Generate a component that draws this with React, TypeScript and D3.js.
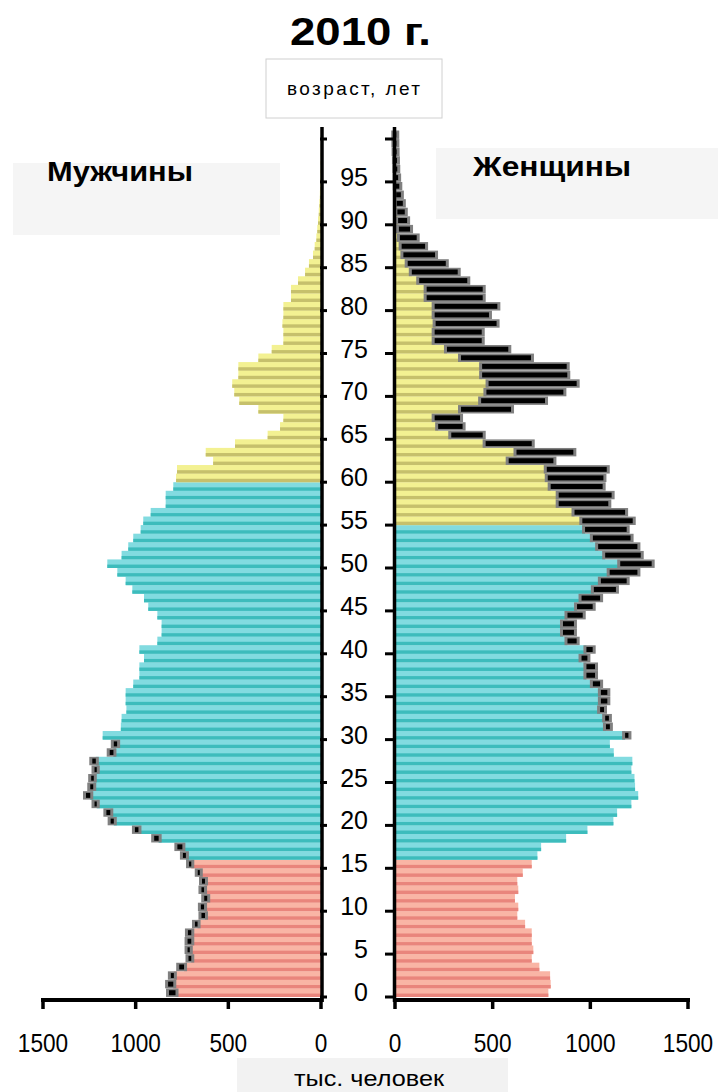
import React from 'react';
import * as d3 from 'd3';

// Population of Russia, 2010, thousand persons, by single year of age 0..100
const male = [
  820, 825, 810, 765, 715, 720, 720, 718, 680, 645,
  648, 630, 645, 642, 665, 712, 745, 775, 900, 1004,
  1135, 1158, 1222, 1268, 1245, 1240, 1222, 1234, 1140, 1118,
  1178, 1080, 1076, 1050, 1054, 1054, 1013, 980, 980, 955,
  980, 883, 860, 860, 883, 932, 955, 1018, 1054, 1099,
  1153, 1076, 1040, 1013, 973, 959, 919, 838, 838, 797,
  782, 777, 582, 622, 464, 288, 221, 203, 338, 441,
  468, 479, 446, 446, 338, 266, 203, 203, 208, 203,
  203, 162, 162, 124, 86, 65, 43, 34, 25, 20,
  16, 12, 9, 6, 4, 3, 2, 1.5, 1, 0.7, 0.5,
];
const female = [
  785, 797, 794, 739, 700, 708, 700, 700, 666, 626,
  631, 614, 631, 626, 654, 700, 729, 748, 876, 985,
  1118, 1137, 1210, 1245, 1229, 1226, 1210, 1215, 1120, 1100,
  1195, 1100, 1095, 1070, 1087, 1087, 1050, 1024, 1024, 985,
  1012, 930, 916, 916, 961, 1012, 1050, 1131, 1186, 1241,
  1314, 1258, 1241, 1206, 1186, 1217, 1178, 1092, 1109, 1063,
  1067, 1084, 811, 913, 700, 449, 346, 333, 594, 768,
  862, 930, 882, 879, 696, 580, 444, 444, 520, 481,
  524, 449, 449, 370, 321, 260, 205, 154, 111, 77,
  62, 50, 40, 30, 22, 16, 11, 8, 5, 3, 2,
];
const ageLabels = [0, 5, 10, 15, 20, 25, 30, 35, 40, 45, 50, 55, 60, 65, 70, 75, 80, 85, 90, 95];
const ageTickMarks = [0, 5, 10, 15, 20, 25, 30, 35, 40, 45, 50, 55, 60, 65, 70, 75, 80, 85, 90, 95, 100];
const popTicks = [0, 500, 1000, 1500];
// age-group boundaries: children (<16), working age (men <60, women <55), pension age
const childUpTo = 15;
const maleWorkUpTo = 59;
const femaleWorkUpTo = 54;

const PAL = {
  pink: ['#f9b5a5', '#e9857c'],
  teal: ['#82dbe0', '#3dbcbc'],
  yellow: ['#f3f192', '#c6c06c'],
};

const FONT = '"Liberation Sans", Arial, Helvetica, sans-serif';

export default function App() {
  const yAge = d3.scaleLinear().domain([0, 101]).range([997, 997 - 101 * 8.58]);
  const xL = d3.scaleLinear().domain([0, 1500]).range([321, 43]);
  const xR = d3.scaleLinear().domain([0, 1500]).range([395, 688]);
  const bh = yAge(0) - yAge(1);

  const group = (a: number, workUpTo: number) =>
    a <= childUpTo ? PAL.pink : a <= workUpTo ? PAL.teal : PAL.yellow;

  const bars: React.ReactNode[] = [];
  const grays: React.ReactNode[] = [];
  const blacks: React.ReactNode[] = [];

  male.forEach((m, a) => {
    const f = female[a];
    const base = Math.min(m, f);
    const y = yAge(a + 1);
    const cm = group(a, maleWorkUpTo);
    const cf = group(a, femaleWorkUpTo);
    const lx = xL(base);
    const lw = xL(0) - lx;
    bars.push(
      <g key={'l' + a}>
        <rect x={lx} y={y} width={lw} height={bh} fill={cm[0]} />
        <rect x={lx} y={y + bh * 0.6} width={lw} height={bh * 0.4} fill={cm[1]} />
      </g>
    );
    const rw = xR(base) - xR(0);
    bars.push(
      <g key={'r' + a}>
        <rect x={xR(0)} y={y} width={rw} height={bh} fill={cf[0]} />
        <rect x={xR(0)} y={y + bh * 0.6} width={rw} height={bh * 0.4} fill={cf[1]} />
      </g>
    );
    const cy = y + bh / 2;
    let x1: number, x2: number;
    if (m > f) {
      x1 = xL(m);
      x2 = xL(f);
    } else if (f > m) {
      x1 = xR(m);
      x2 = xR(f);
    } else return;
    let w = x2 - x1;
    if (w < 2) {
      const c = (x1 + x2) / 2;
      x1 = c - 1;
      w = 2;
    }
    grays.push(<rect key={'g' + a} x={x1 - 3} y={cy - 4.2} width={w + 6} height={8.4} fill="#808080" />);
    blacks.push(<rect key={'b' + a} x={x1} y={cy - 2.5} width={w} height={5} fill="#000" />);
  });

  return (
    <svg
      width={718}
      height={1092}
      style={{ position: 'absolute', left: 0, top: 0, background: '#fff' }}
      fontFamily={FONT}
    >
      <rect x={0} y={0} width={718} height={1092} fill="#fff" />
      <text x={290} y={45} fontSize={38} fontWeight="bold" textLength={141} lengthAdjust="spacingAndGlyphs">
        2010 г.
      </text>
      <rect x={266} y={59} width={176} height={59} fill="#fff" stroke="#d0d0d0" strokeWidth={1} />
      <text x={287} y={95} fontSize={19} textLength={133} lengthAdjust="spacing">
        возраст, лет
      </text>
      <rect x={13} y={163} width={267} height={72} fill="#f5f5f5" />
      <text x={47} y={181} fontSize={27} fontWeight="bold" textLength={146} lengthAdjust="spacingAndGlyphs">
        Мужчины
      </text>
      <rect x={436} y={148} width={282} height={71} fill="#f5f5f5" />
      <text x={473} y={176} fontSize={27} fontWeight="bold" textLength={158} lengthAdjust="spacingAndGlyphs">
        Женщины
      </text>

      {bars}
      {grays}
      {blacks}

      <line x1={322} x2={322} y1={127} y2={1002} stroke="#000" strokeWidth={3.5} />
      <line x1={394.5} x2={394.5} y1={127} y2={1002} stroke="#000" strokeWidth={3.5} />
      {ageTickMarks.map((a) => (
        <g key={'t' + a}>
          <line x1={320} x2={327} y1={yAge(a)} y2={yAge(a)} stroke="#000" strokeWidth={3} />
          <line x1={385} x2={395} y1={yAge(a)} y2={yAge(a)} stroke="#000" strokeWidth={3} />
        </g>
      ))}
      {ageLabels.map((a) => (
        <text key={'al' + a} x={368} y={yAge(a) + 4} fontSize={25} textAnchor="end">
          {a}
        </text>
      ))}

      <line x1={41} x2={323.5} y1={1000} y2={1000} stroke="#000" strokeWidth={4} />
      <line x1={393} x2={690} y1={1000} y2={1000} stroke="#000" strokeWidth={4} />
      {popTicks.map((v) => (
        <g key={'p' + v}>
          <line x1={xL(v)} x2={xL(v)} y1={998} y2={1009} stroke="#000" strokeWidth={3.5} />
          <line x1={xR(v)} x2={xR(v)} y1={998} y2={1009} stroke="#000" strokeWidth={3.5} />
          <text transform={`translate(${xL(v)},1052) scale(0.87,1)`} fontSize={26} textAnchor="middle">
            {v}
          </text>
          <text transform={`translate(${xR(v)},1052) scale(0.87,1)`} fontSize={26} textAnchor="middle">
            {v}
          </text>
        </g>
      ))}
      <rect x={237} y={1058} width={271} height={34} fill="#f2f2f2" />
      <text x={294} y={1086} fontSize={22} textLength={150} lengthAdjust="spacingAndGlyphs">
        тыс. человек
      </text>
    </svg>
  );
}
